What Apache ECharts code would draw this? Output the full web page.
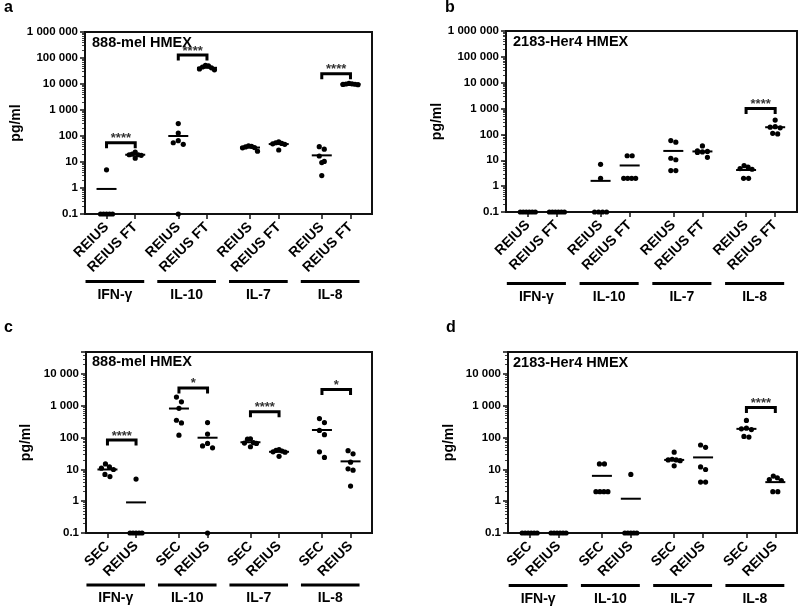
<!DOCTYPE html>
<html><head><meta charset="utf-8">
<script src="https://cdn.jsdelivr.net/npm/echarts@6/dist/echarts.min.js"></script>
<style>html,body{margin:0;padding:0;background:#fff}#c{width:800px;height:608px}</style>
</head><body><div id="c"></div>
<script>
// ---------- data ----------
const cytokines = ['IFN-γ', 'IL-10', 'IL-7', 'IL-8'];
const condTop = ['REIUS', 'REIUS FT'];
const condBottom = ['SEC', 'REIUS'];
const panelLetters = ['a', 'b', 'c', 'd'];
const panelTitles = ['888-mel HMEX', '2183-Her4 HMEX', '888-mel HMEX', '2183-Her4 HMEX'];
const yMaxTop = 1000000;
const yMaxBottom = 50000;
const yMin = 0.1;

// values[cytokine][condition] = individual measurements (pg/ml)
const valuesA = [
  [[5, 0.1, 0.1, 0.1, 0.1, 0.1], [24, 20, 19, 19, 18, 14]],
  [[300, 130, 66, 55, 48, 0.1], [52000, 50000, 45000, 42000, 38000, 35000]],
  [[42, 40, 38, 36, 35, 26], [60, 55, 52, 50, 48, 29]],
  [[39, 31, 17, 10.5, 9.5, 3], [10500, 10200, 10000, 9800, 9600, 9400]]
];
const valuesB = [
  [[0.1, 0.1, 0.1, 0.1, 0.1, 0.1], [0.1, 0.1, 0.1, 0.1, 0.1, 0.1]],
  [[7, 2, 0.1, 0.1, 0.1, 0.1], [15, 15, 2, 2, 2, 2]],
  [[58, 50, 12, 10.5, 4, 4], [36, 23, 22, 21, 20, 13]],
  [[6.2, 5.5, 4.8, 4.5, 2, 2], [360, 200, 190, 180, 110, 105]]
];
const valuesC = [
  [[15, 12, 11, 10, 7, 6], [5, 0.1, 0.1, 0.1, 0.1, 0.1]],
  [[1900, 1350, 840, 355, 293, 120], [300, 130, 66, 55, 48, 0.1]],
  [[92, 90, 70, 68, 66, 52], [42, 40, 38, 36, 35, 26]],
  [[400, 300, 170, 125, 36, 24], [39, 31, 17, 10.5, 9.5, 3]]
];
const valuesD = [
  [[0.1, 0.1, 0.1, 0.1, 0.1, 0.1], [0.1, 0.1, 0.1, 0.1, 0.1, 0.1]],
  [[15, 15, 2, 2, 2, 2], [7, 0.1, 0.1, 0.1, 0.1, 0.1]],
  [[35, 21, 20, 20, 19, 13], [59, 50, 12, 10, 4, 4]],
  [[350, 200, 190, 180, 110, 105], [6.2, 5.5, 4.8, 4.5, 2, 2]]
];
// mean lines
const meansA = [[0.92, 19], [100, 42000], [36, 49], [18, 9800]];
const meansB = [[0.1, 0.1], [1.6, 6.3], [23, 22], [4.2, 190]];
const meansC = [[10, 0.92], [830, 100], [72, 36], [175, 18]];
const meansD = [[0.1, 0.1], [6.3, 1.2], [20, 24], [190, 4]];
// significance brackets: [cytokine index, bracket level, label]
const bracketsA = [[0, 55, '****'], [1, 130000, '****'], [3, 25000, '****']];
const bracketsB = [[3, 1000, '****']];
const bracketsC = [[0, 85, '****'], [1, 3700, '*'], [2, 660, '****'], [3, 3300, '*']];
const bracketsD = [[3, 900, '****']];

// ---------- layout ----------
const F = "'Liberation Sans', Arial, Helvetica, sans-serif";
const SLOTS = 20;
const slot = (g, m) => 1 + 5 * g + 2 * m;
const panels = [
  { conds: condTop, values: valuesA, means: meansA, brackets: bracketsA, ymax: yMaxTop },
  { conds: condTop, values: valuesB, means: meansB, brackets: bracketsB, ymax: yMaxTop },
  { conds: condBottom, values: valuesC, means: meansC, brackets: bracketsC, ymax: yMaxBottom },
  { conds: condBottom, values: valuesD, means: meansD, brackets: bracketsD, ymax: yMaxBottom }
];
const layout = [
  { left: 85, top: 32, width: 287, height: 182, barOff: 67.5, nameGap: 54, letter: [4, 13], title: [92, 48] },
  { left: 506, top: 31, width: 291, height: 181, barOff: 71.5, nameGap: 55, letter: [445, 13], title: [513, 47.5] },
  { left: 86, top: 352, width: 286, height: 181, barOff: 52, nameGap: 53, letter: [4, 333.5], title: [92, 367] },
  { left: 508, top: 352, width: 289, height: 181, barOff: 52.5, nameGap: 52, letter: [446, 333.5], title: [513, 368] }
];

// beeswarm: cluster nearly equal pixel rows and spread them symmetrically
function swarm(ys) {
  const d = 6;
  const order = ys.map((y, i) => i).sort((a, b) => ys[a] - ys[b]);
  const rows = [];
  let cur = null;
  order.forEach(i => {
    if (!cur || ys[i] - ys[cur[0]] >= d) { cur = [i]; rows.push(cur); } else cur.push(i);
  });
  const off = new Array(ys.length).fill(0);
  rows.forEach(r => {
    const n = r.length;
    const sp = n >= 5 ? 3 : (n === 4 ? 4 : 5);
    const pos = [];
    for (let k = 0; k < n; k++) pos.push((k - (n - 1) / 2) * sp);
    pos.sort((a, b) => Math.abs(a) - Math.abs(b) || a - b);
    r.forEach((i, k) => { off[i] = pos[k]; });
  });
  return off;
}

function fmtY(v) {
  const lg = Math.log10(v);
  if (Math.abs(lg - Math.round(lg)) > 1e-6) return '';
  if (v < 1) return '0.1';
  return String(Math.round(v)).replace(/\B(?=(\d{3})+(?!\d))/g, ' ');
}

const grids = [], xAxes = [], yAxes = [], series = [], graphics = [];

panels.forEach((P, p) => {
  const L = layout[p];
  grids.push({ left: L.left, top: L.top, width: L.width, height: L.height, show: true,
    borderColor: '#111', borderWidth: 2, backgroundColor: 'transparent' });
  const cats = new Array(SLOTS).fill('');
  const tickSlots = [];
  cytokines.forEach((c, g) => P.conds.forEach((name, m) => { cats[slot(g, m)] = name; tickSlots.push(slot(g, m)); }));
  xAxes.push({
    type: 'category', gridIndex: p, data: cats, boundaryGap: true,
    axisLine: { show: true, lineStyle: { color: '#111', width: 2 } },
    axisTick: { show: true, alignWithLabel: true, interval: (i) => tickSlots.indexOf(i) >= 0, length: 5,
      lineStyle: { color: '#111', width: 1.5 } },
    axisLabel: { interval: 0, rotate: 45, margin: 11, fontSize: 14, fontWeight: 'bold', color: '#000', fontFamily: F },
    splitLine: { show: false }
  });
  yAxes.push({
    type: 'log', logBase: 10, gridIndex: p, min: yMin, max: P.ymax, splitNumber: P.ymax === yMaxTop ? 7 : 6,
    axisLine: { show: true, lineStyle: { color: '#111', width: 2 } },
    axisTick: { show: true, length: 5, lineStyle: { color: '#111', width: 1.5 } },
    minorTick: { show: true, splitNumber: 9, length: 3, lineStyle: { color: '#111', width: 0.8 } },
    splitLine: { show: false }, minorSplitLine: { show: false },
    axisLabel: { formatter: fmtY, margin: 7, fontSize: 11.5, fontWeight: 'bold', color: '#000', fontFamily: F, showMaxLabel: P.ymax === yMaxTop },
    name: 'pg/ml', nameLocation: 'middle', nameRotate: 90, nameGap: L.nameGap,
    nameTextStyle: { fontSize: 14, fontWeight: 'bold', color: '#000', fontFamily: F }
  });

  // individual points
  const pts = [];
  P.values.forEach((pair, g) => pair.forEach((arr, m) => arr.forEach((v, k) => pts.push({ g, m, k, v }))));
  series.push({
    type: 'custom', xAxisIndex: p, yAxisIndex: p, z: 5, silent: true,
    data: pts.map(d => [slot(d.g, d.m), d.v]),
    renderItem: (params, api) => {
      const d = pts[params.dataIndex];
      const s = slot(d.g, d.m);
      const arr = P.values[d.g][d.m];
      const ys = arr.map(v => api.coord([s, v])[1]);
      const off = swarm(ys);
      const c = api.coord([s, d.v]);
      return { type: 'circle', shape: { cx: c[0] + off[d.k], cy: c[1], r: 2.6 }, style: { fill: '#000' } };
    }
  });

  // mean lines
  const mn = [];
  P.means.forEach((pair, g) => pair.forEach((v, m) => mn.push([slot(g, m), v])));
  series.push({
    type: 'custom', xAxisIndex: p, yAxisIndex: p, z: 4, silent: true, data: mn,
    renderItem: (params, api) => {
      const c = api.coord([api.value(0), api.value(1)]);
      return { type: 'line', shape: { x1: c[0] - 10, y1: c[1], x2: c[0] + 10, y2: c[1] },
        style: { stroke: '#000', lineWidth: 2 } };
    }
  });

  // significance brackets
  series.push({
    type: 'custom', xAxisIndex: p, yAxisIndex: p, z: 4, silent: true,
    data: P.brackets.map(b => [slot(b[0], 0), b[1]]),
    renderItem: (params, api) => {
      const b = P.brackets[params.dataIndex];
      const c1 = api.coord([slot(b[0], 0), b[1]]);
      const c2 = api.coord([slot(b[0], 1), b[1]]);
      const y = c1[1];
      return { type: 'group', children: [
        { type: 'polyline', shape: { points: [[c1[0], y + 5.5], [c1[0], y], [c2[0], y], [c2[0], y + 5.5]] },
          style: { stroke: '#000', lineWidth: 3, fill: null } },
        { type: 'text', x: (c1[0] + c2[0]) / 2, y: y - 4,
          style: { text: b[2], font: 'bold 13px ' + F, fill: '#333', align: 'center', verticalAlign: 'middle',
            textAlign: 'center', textVerticalAlign: 'middle' } }
      ] };
    }
  });

  // group underline bars + cytokine names
  series.push({
    type: 'custom', xAxisIndex: p, yAxisIndex: p, z: 4, silent: true,
    data: cytokines.map((c, g) => [slot(g, 0), yMin]),
    renderItem: (params, api) => {
      const g = params.dataIndex;
      const c1 = api.coord([slot(g, 0), yMin]);
      const c2 = api.coord([slot(g, 1), yMin]);
      const y = c1[1] + L.barOff;
      const x1 = c1[0] - 21, x2 = c2[0] + 9;
      return { type: 'group', children: [
        { type: 'line', shape: { x1: x1, y1: y, x2: x2, y2: y }, style: { stroke: '#000', lineWidth: 3 } },
        { type: 'text', x: (x1 + x2) / 2, y: y + 13.5,
          style: { text: cytokines[g], font: 'bold 14px ' + F, fill: '#000', align: 'center', verticalAlign: 'middle',
            textAlign: 'center', textVerticalAlign: 'middle' } }
      ] };
    }
  });

  graphics.push({ type: 'text', x: L.letter[0], y: L.letter[1] - 0.35 * 16,
    style: { text: panelLetters[p], font: 'bold 16px ' + F, fill: '#000', align: 'left', verticalAlign: 'middle',
      textAlign: 'left', textVerticalAlign: 'middle' } });
  graphics.push({ type: 'text', x: L.title[0], y: L.title[1] - 0.35 * 14.5, z: 10,
    style: { text: panelTitles[p], font: 'bold 14.5px ' + F, fill: '#000', align: 'left', verticalAlign: 'middle',
      textAlign: 'left', textVerticalAlign: 'middle' } });
});

const chart = echarts.init(document.getElementById('c'));
chart.setOption({
  animation: false,
  backgroundColor: '#fff',
  grid: grids, xAxis: xAxes, yAxis: yAxes, series: series, graphic: graphics
});
</script></body></html>
